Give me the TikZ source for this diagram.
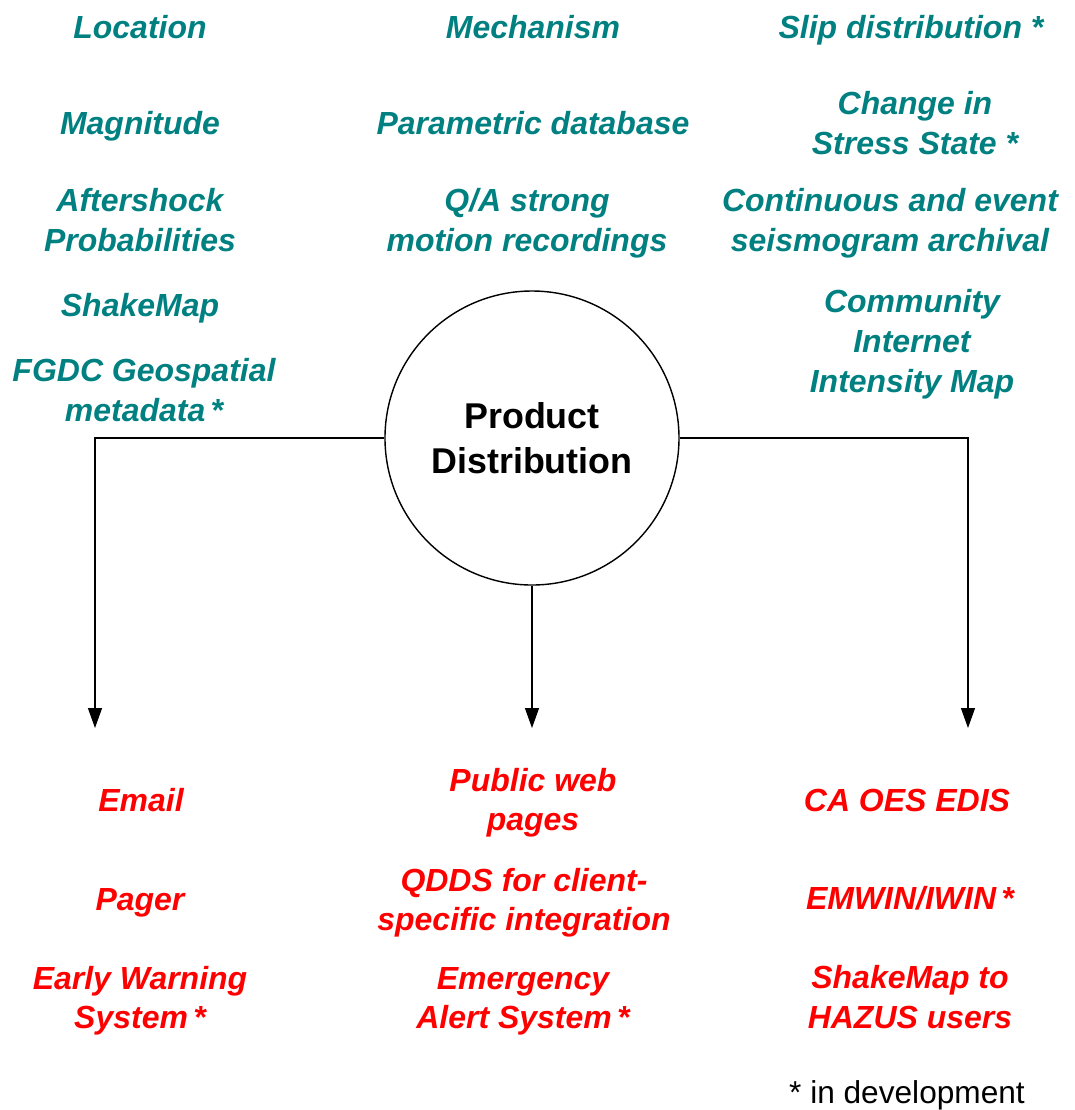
\documentclass[tikz,border=0pt]{standalone}
\usepackage{fontspec}
\setmainfont{Liberation Sans}
\usepackage{xcolor}
\usepackage{tikz}
\usetikzlibrary{shapes,arrows.meta}
\definecolor{prodteal}{RGB}{0,128,128}
\tikzstyle{line} = [draw, -{Triangle[length=2mm,width=1.4mm]}]
\tikzstyle{product} = [align=center, text=prodteal, font=\fontsize{9.1}{11.4}\selectfont\bfseries\itshape]
\tikzstyle{channel} = [align=center, text=red, font=\fontsize{9.1}{11.2}\selectfont\bfseries\itshape]

\begin{document}
\begin{tikzpicture}
\useasboundingbox (0,0) rectangle (10.75,-11.1);
\node[draw, circle, minimum size=2.94cm, inner sep=0pt, align=center,
  font=\fontsize{10.2}{12.8}\selectfont\bfseries] (prod) at (5.32,-4.38) {Product\\Distribution};
%
\node[product] (loc) at (1.40,-0.27) {Location};
\node[product] (mag) at (1.40,-1.26) {Magnitude};
\node[product] (after) at (1.40,-2.20) {Aftershock\\Probabilities};
\node[product] (shake) at (1.40,-3.08) {ShakeMap};
\node[product] (fgdc) at (1.44,-3.90) {FGDC Geospatial\\metadata\,*};
%
\node[product] (mech) at (5.33,-0.27) {Mechanism};
\node[product] (param) at (5.33,-1.23) {Parametric database};
\node[product] (qa) at (5.27,-2.23) {Q/A strong\\motion recordings};
%
\node[product] (slip) at (9.11,-0.30) {Slip distribution *};
\node[product] (stress) at (9.15,-1.23) {Change in\\Stress State *};
\node[product] (cont) at (8.90,-2.23) {Continuous and event\\seismogram archival};
\node[product] (cii) at (9.12,-3.44) {Community\\Internet\\Intensity Map};
%
\coordinate (lefttip) at (0.95,-7.28);
\coordinate (midtip) at (5.32,-7.28);
\coordinate (righttip) at (9.68,-7.28);
\draw[line] (prod.west) -| (lefttip);
\draw[line] (prod.south) -- (midtip);
\draw[line] (prod.east) -| (righttip);
%
\node[channel] (email) at (1.41,-8.00) {Email};
\node[channel] (pager) at (1.40,-9.03) {Pager};
\node[channel] (ews) at (1.40,-10.01) {Early Warning\\System\,*};
%
\node[channel] (web) at (5.33,-8.03) {Public web\\pages};
\node[channel] (qdds) at (5.24,-9.03) {QDDS for client-\\specific integration};
\node[channel] (eas) at (5.23,-10.01) {Emergency\\Alert System\,*};
%
\node[channel] (edis) at (9.07,-8.00) {CA OES EDIS};
\node[channel] (emwin) at (9.10,-8.98) {EMWIN/IWIN\,*};
\node[channel] (hazus) at (9.10,-9.97) {ShakeMap to\\HAZUS users};
%
\node[font=\fontsize{9}{11}\selectfont] (dev) at (9.07,-10.95) {* in development};
\end{tikzpicture}
\end{document}
